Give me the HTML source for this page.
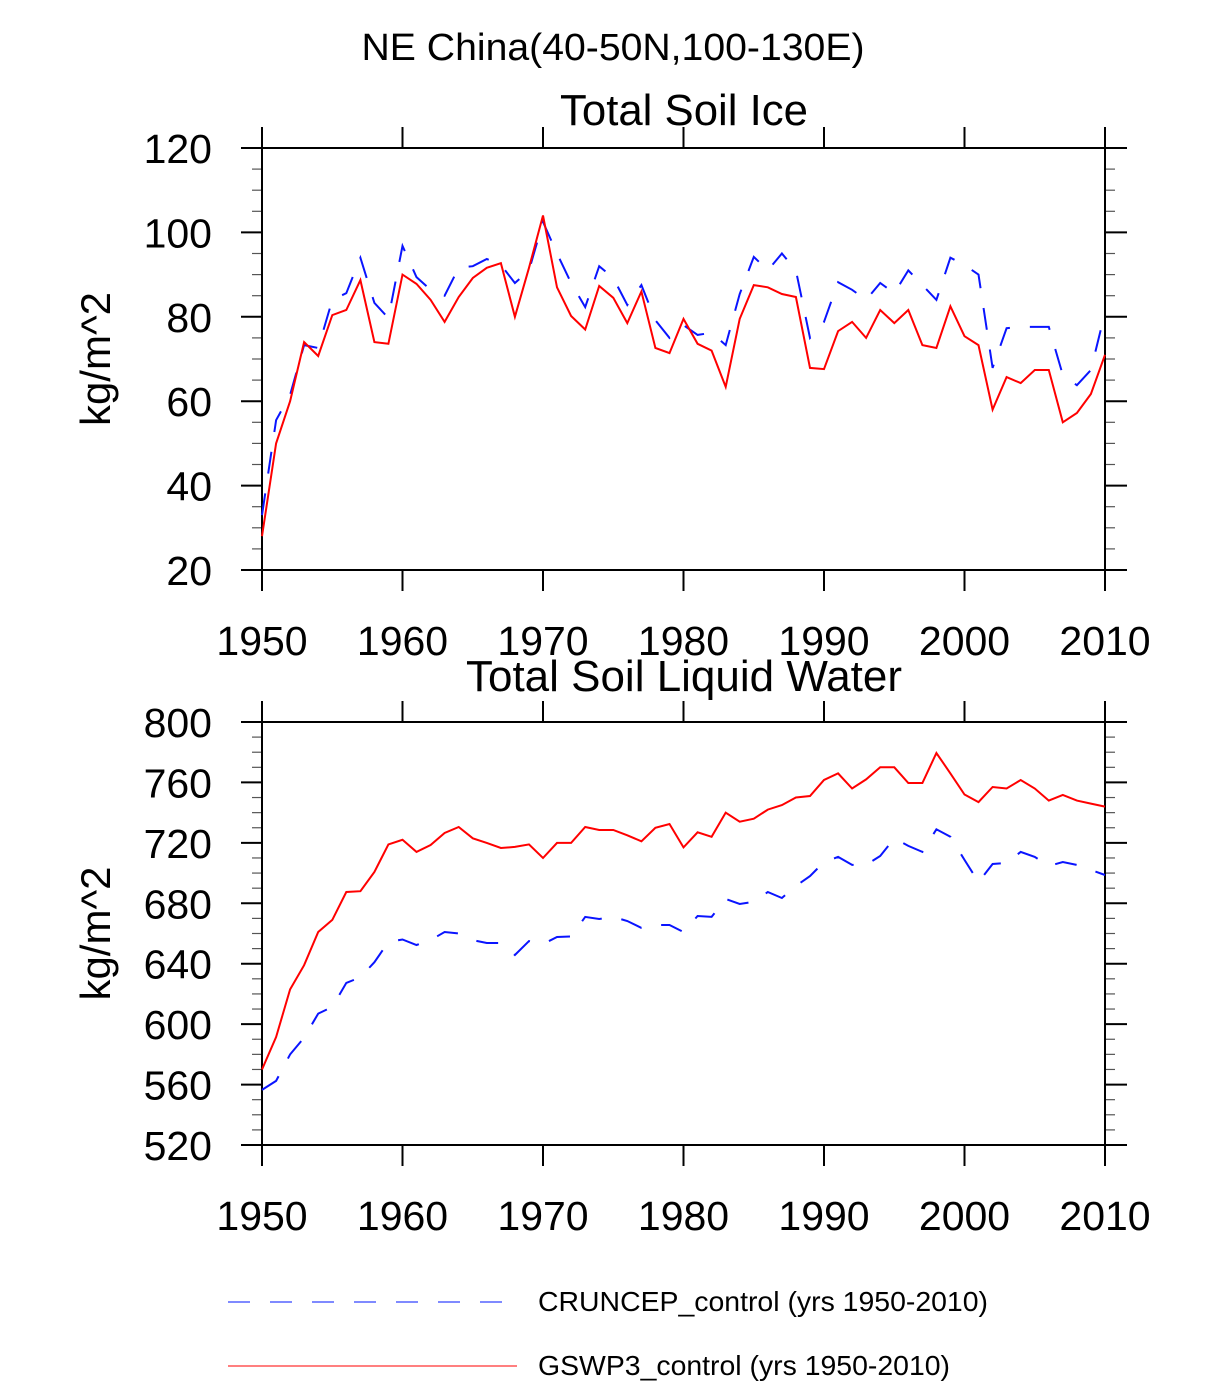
<!DOCTYPE html>
<html><head><meta charset="utf-8"><style>
html,body{margin:0;padding:0;background:#fff;}
svg{display:block;font-family:"Liberation Sans",sans-serif;}
</style></head><body>
<svg id="chart" width="1224" height="1382" viewBox="0 0 1224 1382" xmlns="http://www.w3.org/2000/svg">
<text x="613" y="60" font-size="38" text-anchor="middle" textLength="503" lengthAdjust="spacingAndGlyphs">NE China(40-50N,100-130E)</text>
<g id="p1"></g>
<g id="p2"></g>
<g>
<line x1="228" y1="1302" x2="505" y2="1302" stroke="#3344ff" stroke-width="1.3" stroke-dasharray="22,20"/>
<text x="538" y="1311" font-size="28" textLength="450" lengthAdjust="spacingAndGlyphs">CRUNCEP_control (yrs 1950-2010)</text>
<line x1="228" y1="1366" x2="517" y2="1366" stroke="#ff3333" stroke-width="1.3"/>
<text x="538" y="1375" font-size="28" textLength="412" lengthAdjust="spacingAndGlyphs">GSWP3_control (yrs 1950-2010)</text>
</g>
</svg>
<script>
const years = [];
for (let y = 1950; y <= 2010; y++) years.push(y);
const xTickLabels = ["1950","1960","1970","1980","1990","2000","2010"];
const iceTickLabels = ["20","40","60","80","100","120"];
const liqTickLabels = ["520","560","600","640","680","720","760","800"];
const iceGSWP3 = [28,50,60,74,70.7,80.4,81.6,88.7,74,73.6,90,87.8,84,78.8,84.7,89.2,91.6,92.7,80,91.6,104,87,80.2,77,87.3,84.5,78.5,86,72.6,71.4,79.5,73.6,72,63.4,79.5,87.5,87,85.4,84.7,67.9,67.6,76.6,78.8,75,81.6,78.5,81.6,73.3,72.6,82.5,75.4,73.3,58,65.7,64.3,67.4,67.4,55,57.2,61.7,71];
const iceCRUNCEP = [33,55.5,61.5,73.3,72.6,84,85.6,94,83.3,79.7,96.8,89.4,86.4,85,91.6,92,93.7,92.3,88,91,102.5,95,88,82.3,92,89.2,82.8,87.5,79.2,75,78,75.7,76.2,73.3,85.4,94.2,91,95,91,75,78.8,88.2,86.4,84,88,85.6,91,87.5,84,94,92.3,90,67.9,77.3,77.6,77.6,77.6,66.2,63.8,67.4,81];
const liqGSWP3 = [570,591.5,623,639,661,669,687.5,688,700.7,719,722,714,718.6,726.5,730.5,723,720,716.6,717.3,719,710,720,720,730.5,728.5,728.5,725,721,730,732.5,717,727,724,740,734,736,742,745,750,751,761.6,766,756,762,770,770,759.6,759.6,779.5,766,752,747,757,756,761.6,756,748,751.7,748,746,744];
const liqCRUNCEP = [556.5,562.4,580,591,607,611.4,627.3,631,641,654.4,656,652.4,655.6,661,660,655.6,653.7,653.7,645.8,655,653,657.7,658,671,669.6,671,668.3,663.7,665.6,665.6,661,671.6,671,682.9,679.5,681,687.5,683.5,691.5,698,707.3,710.7,705.4,705.4,711.3,723,718,714,729,724,708.7,694,706,706.7,714,710.7,704.7,707.3,705.4,702,698.7];

const NS = "http://www.w3.org/2000/svg";
function mk(parent, tag, attrs) {
  const e = document.createElementNS(NS, tag);
  for (const k in attrs) e.setAttribute(k, attrs[k]);
  parent.appendChild(e);
  return e;
}
function panel(gid, top, bottom, ymin, ymax, minorStep, yLabels, title, titleW, titleY, s1, s2, xLabelY) {
  const g = document.getElementById(gid);
  const L = 262, R = 1105;
  const xs = v => L + (v - 1950) / 60 * (R - L);
  const ys = v => bottom - (v - ymin) / (ymax - ymin) * (bottom - top);
  const t = mk(g, "text", {x: 684, y: titleY, "font-size": 44, "text-anchor": "middle", textLength: titleW, lengthAdjust: "spacingAndGlyphs"});
  t.textContent = title;
  
  
  const yt = mk(g, "text", {x: 0, y: 0, "font-size": 42, "text-anchor": "middle", transform: `translate(110,${(top+bottom)/2}) rotate(-90)`});
  yt.textContent = "kg/m^2";
  
  
  for (let v = ymin; v <= ymax + 1e-9; v += minorStep) {
    const y = ys(v);
    const m1 = mk(g, "line", {x1: 252, y1: y, x2: L, y2: y, stroke: "#555", "stroke-width": 1.2});
    
    
    const m2 = mk(g, "line", {x1: R, y1: y, x2: R + 10, y2: y, stroke: "#555", "stroke-width": 1.2});
    
    
  }
  yLabels.forEach(lbl => {
    const y = ys(+lbl);
    const a = mk(g, "line", {x1: 241, y1: y, x2: L, y2: y, stroke: "#000", "stroke-width": 2});
    
    
    const b = mk(g, "line", {x1: R, y1: y, x2: R + 22, y2: y, stroke: "#000", "stroke-width": 2});
    
    
    const tx = mk(g, "text", {x: 212, y: y + 15, "font-size": 41, "text-anchor": "end"});
    tx.textContent = lbl;
    
    
  });
  xTickLabels.forEach(lbl => {
    const x = xs(+lbl);
    const a = mk(g, "line", {x1: x, y1: bottom, x2: x, y2: bottom + 21, stroke: "#000", "stroke-width": 2});
    
    
    const b = mk(g, "line", {x1: x, y1: top - 21, x2: x, y2: top, stroke: "#000", "stroke-width": 2});
    
    
    const tx = mk(g, "text", {x: x, y: xLabelY, "font-size": 41, "text-anchor": "middle"});
    tx.textContent = lbl;
    
    
  });
  const box = mk(g, "rect", {x: L, y: top, width: R - L, height: bottom - top, fill: "none", stroke: "#000", "stroke-width": 2});
  
  
  const pts = arr => arr.map((v, i) => xs(years[i]).toFixed(1) + "," + ys(v).toFixed(1)).join(" ");
  const l1 = mk(g, "polyline", {points: pts(s1), fill: "none", stroke: "#0a14ff", "stroke-width": 2, "stroke-dasharray": "22,20"});
  
  
  const l2 = mk(g, "polyline", {points: pts(s2), fill: "none", stroke: "#ff0000", "stroke-width": 2});
  
  
}
panel("p1", 148, 570, 20, 120, 5, iceTickLabels, "Total Soil Ice", 248, 125, iceCRUNCEP, iceGSWP3, 655);
panel("p2", 722, 1145, 520, 800, 10, liqTickLabels, "Total Soil Liquid Water", 436, 691, liqCRUNCEP, liqGSWP3, 1230);
</script>
</body></html>
